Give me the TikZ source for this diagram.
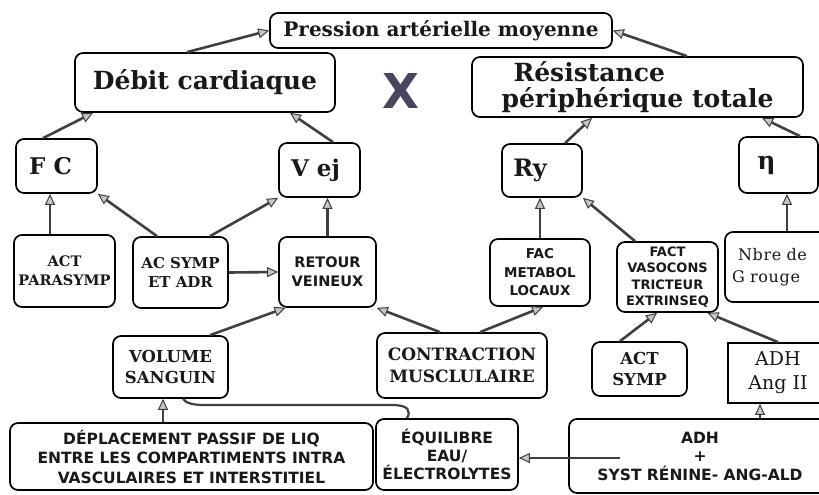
\documentclass[tikz,border=0pt]{standalone}
\usepackage{fontspec}
\usetikzlibrary{arrows.meta,calc}
\newfontfamily\cs{DejaVu Serif}
\newfontfamily\csr{DejaVu Serif}[LetterSpace=4]
\newfontfamily\sbf{DejaVu Sans}
\newcommand{\fsz}[2]{\fontsize{#1}{#2}\selectfont}
\definecolor{xcol}{RGB}{70,70,95}
\begin{document}
\begin{tikzpicture}[x=1pt,y=-1pt,
  box/.style={draw=black,line width=1.7pt,rounded corners=8pt,inner sep=0pt,align=center,text=black!90},
  sqbox/.style={draw=black,line width=1.7pt,inner sep=0pt,align=center,text=black!90},
  arr/.style={line width=2.6pt,draw=black!75,-{Triangle[length=11pt,width=10pt,fill=gray!45,line width=1pt]}},
  conn/.style={line width=2.2pt,draw=black!75}]
\useasboundingbox (0,0) rectangle (819,495);
\fill[white] (0,0) rectangle (819,495);
\clip (0,0) rectangle (819,495);

% top row
\node[box,minimum width=342pt,minimum height=35pt,font=\cs\bfseries\fsz{20}{24}] (pam) at (441,30.5) {Pression artérielle moyenne};
\node[box,minimum width=260pt,minimum height=59pt,font=\cs\bfseries\fsz{25}{29}] (dc) at (205,82.5) {Débit cardiaque};
\node[font=\sbf\bfseries\fsz{48}{48},text=xcol] (x) at (401,91) {X};
\node[box,minimum width=331pt,minimum height=60pt,font=\cs\bfseries\fsz{25}{26},align=left] (rpt) at (637.5,87) {\hspace*{12pt}Résistance\\périphérique totale};

% second row
\node[box,minimum width=81pt,minimum height=54pt,font=\cs\bfseries\fsz{23}{26}] (fc) at (56.5,166) {F C\hspace*{12pt}};
\node[box,minimum width=81pt,minimum height=54pt,font=\cs\bfseries\fsz{23}{26}] (vej) at (319.5,170) {V ej\hspace*{8pt}};
\node[box,minimum width=80pt,minimum height=53pt,font=\cs\bfseries\fsz{24}{26}] (ry) at (542,170.5) {Ry\hspace*{24pt}};
\node[box,minimum width=79pt,minimum height=56pt,font=\cs\bfseries\fsz{25}{27}] (eta) at (778.5,165) {η\hspace*{24pt}};

% third row
\node[box,minimum width=101pt,minimum height=72pt,font=\cs\bfseries\fsz{14.5}{19}] (pa) at (64.5,271) {ACT\\PARASYMP};
\node[box,minimum width=95pt,minimum height=71pt,font=\cs\bfseries\fsz{15}{19}] (acs) at (180.5,272.5) {AC SYMP\\ET ADR};
\node[box,minimum width=97pt,minimum height=70pt,font=\sbf\bfseries\fsz{14.5}{19}] (rv) at (327.5,272) {RETOUR\\VEINEUX};
\node[box,minimum width=100pt,minimum height=67pt,font=\sbf\bfseries\fsz{13.5}{18.5}] (fml) at (540,272.5) {FAC\\METABOL\\LOCAUX};
\node[box,minimum width=101pt,minimum height=70pt,font=\sbf\bfseries\fsz{13}{16.5}] (fvc) at (667.5,277) {FACT\\VASOCONS\\TRICTEUR\\EXTRINSEQ};
\node[box,minimum width=120pt,minimum height=70pt,text width=106pt,align=left,font=\csr\fsz{16}{22}] (ngr) at (785,267) {\hspace*{6pt}Nbre de\\G rouge};

% fourth row
\node[box,minimum width=115pt,minimum height=62pt,font=\cs\bfseries\fsz{16.5}{21}] (vs) at (170.5,367) {VOLUME\\SANGUIN};
\node[box,minimum width=170pt,minimum height=65pt,font=\cs\bfseries\fsz{17}{22}] (cm) at (462,365.5) {CONTRACTION\\MUSCLULAIRE};
\node[box,minimum width=95pt,minimum height=54pt,font=\cs\bfseries\fsz{16.5}{21}] (as) at (639.5,369) {ACT\\SYMP};
\node[sqbox,minimum width=100pt,minimum height=60pt,font=\cs\fsz{19}{24}] (adh) at (778,373) {ADH\\Ang II};

% bottom row
\node[box,minimum width=363pt,minimum height=67pt,font=\sbf\bfseries\fsz{15.5}{19.5}] (dep) at (191.5,456.5) {DÉPLACEMENT PASSIF DE LIQ\\ENTRE LES COMPARTIMENTS INTRA\\VASCULAIRES ET INTERSTITIEL};
\node[box,minimum width=142pt,minimum height=71pt,font=\sbf\bfseries\fsz{15.5}{18}] (eq) at (447,454.5) {ÉQUILIBRE\\EAU/\\ÉLECTROLYTES};
\node[box,minimum width=262pt,minimum height=74pt,font=\sbf\bfseries\fsz{15.5}{18.5}] (adhs) at (700,456) {ADH\\+\\SYST RÉNINE- ANG-ALD};

% connectors
\draw[arr] ([xshift=-18pt]dc.north) -- (pam.west);
\draw[arr] ([xshift=49.5pt]rpt.north) -- (pam.east);
\draw[arr] ([xshift=-13.5pt]fc.north) -- ([xshift=-112pt]dc.south);
\draw[arr] ([xshift=13.5pt]vej.north) -- ([xshift=85pt]dc.south);
\draw[arr] ([xshift=23pt]ry.north) -- ([xshift=-45.5pt]rpt.south);
\draw[arr] ([xshift=21.5pt]eta.north) -- ([xshift=124.5pt]rpt.south);

\coordinate (p1) at ([xshift=-14.5pt]pa.north);
\draw[arr] (p1) -- (p1 |- fc.south);
\draw[arr] ([xshift=-23.5pt]acs.north) -- (fc.south east);
\draw[arr] ([xshift=29.5pt]acs.north) -- (vej.south west);
\draw[arr] (acs.east) -- (rv.west);
\draw[arr] (rv.north) -- (rv.north |- vej.south);
\draw[arr] ([xshift=39.5pt]vs.north) -- ([xshift=-42pt]rv.south);
\draw[arr] ([xshift=-22pt]cm.north) -- (rv.south east);
\draw[arr] ([xshift=18pt]cm.north) -- ([xshift=3pt]fml.south);
\draw[arr] (fml.north) -- (fml.north |- ry.south);
\draw[arr] ([xshift=-32.5pt]fvc.north) -- (ry.south east);
\coordinate (p3) at ([xshift=2pt]ngr.north);
\draw[arr] (p3) -- (p3 |- eta.south);
\draw[arr] ([xshift=-19.5pt]as.north) -- ([xshift=-10.5pt]fvc.south);
\draw[arr] (adh.north) -- ([xshift=40pt]fvc.south);

\coordinate (p4) at ([xshift=-28.5pt]dep.north);
\draw[arr] (p4) -- (p4 |- vs.south);
\draw[conn] ([xshift=-40pt]eq.north) .. controls (411,411) and (409,405) .. (392,405) -- (205,405) .. controls (192,405) and (186,403) .. ([xshift=12.5pt]vs.south);
\coordinate (adhsin) at (620,458);
\draw[arr] (adhsin) -- (eq.east |- adhsin);
\coordinate (p5) at ([xshift=60pt]adhs.north);
\draw[arr] (p5) -- (p5 |- adh.south);
\end{tikzpicture}
\end{document}
